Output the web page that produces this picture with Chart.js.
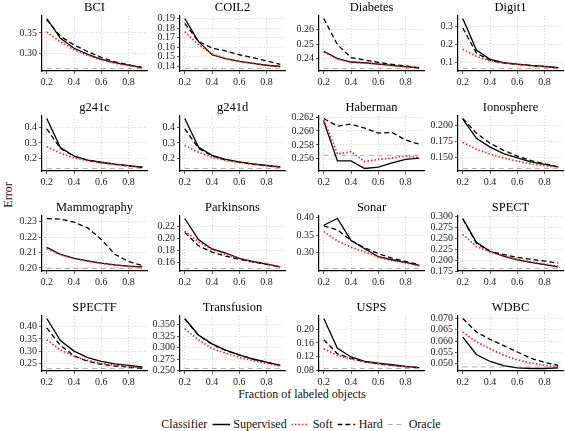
<!DOCTYPE html>
<html>
<head>
<meta charset="utf-8">
<script src="https://cdn.jsdelivr.net/npm/chart.js@4.4.1/dist/chart.umd.min.js"></script>
<style>
body { margin: 0; background: #fff; width: 565px; height: 431px; overflow: hidden; position: relative;
       font-family: "Liberation Serif", "DejaVu Serif", serif; color: #111; }
.panel { position: absolute; width: 146px; height: 87px; }
#ytitle { position: absolute; left: 8px; top: 195px; font-size: 12px; white-space: nowrap;
          transform: translate(-50%, -50%) rotate(-90deg); }
#xtitle { position: absolute; left: 302px; top: 394px; font-size: 12px; white-space: nowrap;
          transform: translate(-50%, -50%); }
#legend { position: absolute; left: 301px; top: 424px; font-size: 12px; white-space: nowrap;
          transform: translate(-50%, -50%); display: flex; align-items: center; }
#legend svg { margin: 0 3px 0 5px; }
</style>
</head>
<body>
<div id="ytitle">Error</div>
<div id="xtitle">Fraction of labeled objects</div>
<div id="legend">
  <span>Classifier</span>
  <svg width="18" height="6"><line x1="0" y1="3" x2="18" y2="3" stroke="#000" stroke-width="1.3"/></svg><span>Supervised</span>
  <svg width="18" height="6"><line x1="0" y1="3" x2="18" y2="3" stroke="#ee1c25" stroke-width="1.6" stroke-dasharray="1.5 2"/></svg><span>Soft</span>
  <svg width="18" height="6"><line x1="0" y1="3" x2="18" y2="3" stroke="#000" stroke-width="1.3" stroke-dasharray="5 3"/></svg><span>Hard</span>
  <svg width="18" height="6"><line x1="0" y1="3" x2="18" y2="3" stroke="#b0b0b0" stroke-width="1" stroke-dasharray="5 4"/></svg><span>Oracle</span>
</div>
<script>
var panelNames = ['BCI', 'COIL2', 'Diabetes', 'Digit1', 'g241c', 'g241d', 'Haberman', 'Ionosphere',
    'Mammography', 'Parkinsons', 'Sonar', 'SPECT', 'SPECTF', 'Transfusion', 'USPS', 'WDBC'];
var fractions = [0.2, 0.3, 0.4, 0.5, 0.6, 0.7, 0.8, 0.9];
var xTickLabels = ['0.2', '0.4', '0.6', '0.8'];

var supervisedErr = [
    [0.385, 0.337, 0.313, 0.298, 0.286, 0.278, 0.272, 0.266],
    [0.190, 0.166, 0.152, 0.148, 0.145, 0.143, 0.141, 0.1397],
    [0.2451, 0.2400, 0.2376, 0.2371, 0.2362, 0.2353, 0.2344, 0.2336],
    [0.344, 0.168, 0.116, 0.098, 0.089, 0.082, 0.077, 0.070],
    [0.456, 0.270, 0.216, 0.190, 0.176, 0.164, 0.154, 0.144],
    [0.456, 0.274, 0.220, 0.194, 0.178, 0.166, 0.156, 0.146],
    [0.2614, 0.2557, 0.2557, 0.2546, 0.2548, 0.2554, 0.2559, 0.2561],
    [0.210, 0.180, 0.166, 0.156, 0.149, 0.143, 0.139, 0.135],
    [0.2133, 0.2088, 0.2061, 0.2045, 0.2031, 0.2020, 0.2012, 0.2006],
    [0.233, 0.198, 0.1825, 0.1757, 0.1668, 0.1616, 0.1574, 0.1527],
    [0.378, 0.397, 0.335, 0.3115, 0.289, 0.2805, 0.273, 0.2646],
    [0.296, 0.241, 0.2206, 0.2096, 0.2007, 0.1949, 0.1897, 0.1846],
    [0.432, 0.343, 0.301, 0.275, 0.260, 0.250, 0.2436, 0.237],
    [0.3638, 0.328, 0.3086, 0.2948, 0.2845, 0.2755, 0.2686, 0.2617],
    [0.2323, 0.1446, 0.1188, 0.1059, 0.1003, 0.0957, 0.0911, 0.0874],
    [0.0618, 0.0541, 0.0510, 0.0492, 0.0482, 0.0479, 0.0479, 0.0482]
];
var softErr = [
    [0.352, 0.329, 0.309, 0.296, 0.285, 0.277, 0.271, 0.266],
    [0.176, 0.1626, 0.153, 0.148, 0.145, 0.143, 0.141, 0.1397],
    [0.2444, 0.2398, 0.2373, 0.2369, 0.2362, 0.2351, 0.2342, 0.2336],
    [0.172, 0.133, 0.107, 0.095, 0.088, 0.081, 0.075, 0.070],
    [0.276, 0.234, 0.204, 0.186, 0.172, 0.162, 0.152, 0.144],
    [0.284, 0.240, 0.208, 0.188, 0.174, 0.162, 0.152, 0.146],
    [0.2616, 0.2567, 0.2570, 0.2556, 0.2559, 0.2561, 0.2564, 0.2562],
    [0.1735, 0.163, 0.155, 0.149, 0.144, 0.140, 0.137, 0.135],
    [0.2127, 0.2086, 0.2061, 0.2043, 0.2029, 0.2018, 0.2010, 0.2004],
    [0.2122, 0.1944, 0.1814, 0.1736, 0.1668, 0.1616, 0.1574, 0.1527],
    [0.360, 0.3336, 0.316, 0.3027, 0.2876, 0.278, 0.2717, 0.2628],
    [0.2596, 0.2316, 0.2191, 0.2096, 0.2022, 0.1963, 0.1912, 0.186],
    [0.347, 0.3055, 0.279, 0.263, 0.251, 0.2436, 0.2385, 0.2335],
    [0.341, 0.3176, 0.2983, 0.288, 0.279, 0.272, 0.2659, 0.2603],
    [0.1428, 0.1234, 0.1123, 0.104, 0.0985, 0.0939, 0.0902, 0.0874],
    [0.064, 0.0597, 0.0566, 0.0538, 0.0517, 0.0503, 0.0493, 0.0486]
];
var hardErr = [
    [0.382, 0.342, 0.321, 0.305, 0.291, 0.280, 0.273, 0.266],
    [0.185, 0.166, 0.159, 0.156, 0.152, 0.149, 0.1455, 0.142],
    [0.2678, 0.2496, 0.2407, 0.2390, 0.2373, 0.2360, 0.2349, 0.2336],
    [0.291, 0.151, 0.110, 0.096, 0.088, 0.081, 0.075, 0.070],
    [0.390, 0.264, 0.214, 0.188, 0.174, 0.162, 0.152, 0.144],
    [0.390, 0.266, 0.216, 0.192, 0.176, 0.164, 0.154, 0.146],
    [0.2618, 0.2607, 0.2610, 0.2604, 0.2597, 0.2598, 0.2587, 0.2581],
    [0.211, 0.188, 0.172, 0.161, 0.152, 0.145, 0.140, 0.135],
    [0.2320, 0.2316, 0.2296, 0.2259, 0.2184, 0.2088, 0.2041, 0.2016],
    [0.210, 0.1877, 0.1772, 0.1704, 0.1652, 0.1610, 0.1569, 0.1527],
    [0.376, 0.3646, 0.335, 0.314, 0.298, 0.285, 0.276, 0.2664],
    [0.2949, 0.239, 0.2206, 0.2132, 0.2066, 0.2022, 0.1978, 0.1934],
    [0.394, 0.324, 0.282, 0.260, 0.2475, 0.241, 0.237, 0.232],
    [0.3624, 0.3275, 0.3075, 0.294, 0.284, 0.2752, 0.2683, 0.2615],
    [0.1696, 0.128, 0.1142, 0.104, 0.0985, 0.0939, 0.0902, 0.0874],
    [0.070, 0.064, 0.0608, 0.058, 0.0552, 0.0524, 0.0506, 0.0493]
];
var oracleErr = [0.264, 0.1376, 0.2331, 0.065, 0.136, 0.136, 0.2565, 0.1325,
    0.1996, 0.150, 0.2558, 0.181, 0.231, 0.2548, 0.0846, 0.0486];

var yTickLabels = [
    ['0.30', '0.35'],
    ['0.14', '0.15', '0.16', '0.17', '0.18', '0.19'],
    ['0.24', '0.25', '0.26'],
    ['0.1', '0.2', '0.3'],
    ['0.2', '0.3', '0.4'],
    ['0.2', '0.3', '0.4'],
    ['0.256', '0.258', '0.260', '0.262'],
    ['0.150', '0.175', '0.200'],
    ['0.20', '0.21', '0.22', '0.23'],
    ['0.16', '0.18', '0.20', '0.22'],
    ['0.30', '0.35', '0.40'],
    ['0.175', '0.200', '0.225', '0.250', '0.275', '0.300'],
    ['0.25', '0.30', '0.35', '0.40'],
    ['0.250', '0.275', '0.300', '0.325', '0.350'],
    ['0.08', '0.12', '0.16', '0.20'],
    ['0.050', '0.055', '0.060', '0.065', '0.070']
];

// panel placement (plot area left / top)
var plotLeft = [42, 180, 319, 458];
var plotTop = [15, 115, 215, 315];

Chart.defaults.font.family = "'Liberation Serif', 'DejaVu Serif', serif";
Chart.defaults.color = '#222';

function toPoints(values) {
    return fractions.map(function (f, j) { return { x: f, y: values[j] }; });
}

panelNames.forEach(function (name, i) {
    var col = i % 4, row = Math.floor(i / 4);
    var div = document.createElement('div');
    div.className = 'panel';
    div.style.left = (plotLeft[col] - 40) + 'px';
    div.style.top = (plotTop[row] - 15) + 'px';
    var canvas = document.createElement('canvas');
    div.appendChild(canvas);
    document.body.appendChild(div);

    var all = supervisedErr[i].concat(softErr[i], hardErr[i], [oracleErr[i]]);
    var lo = Math.min.apply(null, all), hi = Math.max.apply(null, all);
    var pad = (hi - lo) * 0.05;
    var xFirst = fractions[0], xLast = fractions[fractions.length - 1];
    var xPad = (xLast - xFirst) * 0.05;

    new Chart(canvas.getContext('2d'), {
        type: 'line',
        data: {
            datasets: [{
                label: 'Oracle',
                data: [{ x: xFirst, y: oracleErr[i] }, { x: xLast, y: oracleErr[i] }],
                borderColor: '#b0b0b0', borderWidth: 1, borderDash: [5, 4],
                pointRadius: 0, order: 4
            }, {
                label: 'Supervised',
                data: toPoints(supervisedErr[i]),
                borderColor: '#000', borderWidth: 1.3,
                pointRadius: 0, order: 3
            }, {
                label: 'Hard',
                data: toPoints(hardErr[i]),
                borderColor: '#000', borderWidth: 1.3, borderDash: [5, 3],
                pointRadius: 0, order: 2
            }, {
                label: 'Soft',
                data: toPoints(softErr[i]),
                borderColor: '#ee1c25', borderWidth: 1.6, borderDash: [1.5, 2],
                pointRadius: 0, order: 1
            }]
        },
        options: {
            responsive: true,
            maintainAspectRatio: false,
            animation: false,
            layout: { padding: { left: 0, right: 1, top: 0, bottom: 0 } },
            plugins: {
                legend: { display: false },
                tooltip: { enabled: false },
                title: {
                    display: true, text: name, fullSize: false, color: '#000',
                    font: { size: 12.5, weight: 'normal' },
                    padding: { top: 0, bottom: 1 }
                }
            },
            scales: {
                x: {
                    type: 'linear',
                    min: xFirst - xPad, max: xLast + xPad,
                    afterBuildTicks: function (axis) {
                        axis.ticks = xTickLabels.map(function (t) { return { value: parseFloat(t) }; });
                    },
                    afterFit: function (axis) { axis.height = 16; },
                    ticks: {
                        autoSkip: false, maxRotation: 0, padding: 2,
                        font: { size: 10 },
                        callback: function (v, k) { return xTickLabels[k]; }
                    },
                    grid: { color: '#c8c8c8', lineWidth: 0.8, tickLength: 3, tickColor: '#333', tickWidth: 0.8 },
                    border: { display: true, color: '#000', width: 1.2, dash: [1, 2] }
                },
                y: {
                    type: 'linear',
                    min: lo - pad, max: hi + pad,
                    afterBuildTicks: function (axis) {
                        axis.ticks = yTickLabels[i].map(function (t) { return { value: parseFloat(t) }; });
                    },
                    afterFit: function (axis) { axis.width = 40; },
                    ticks: {
                        autoSkip: false, padding: 2,
                        font: { size: 10 },
                        callback: function (v, k) { return yTickLabels[i][k]; }
                    },
                    grid: { color: '#c8c8c8', lineWidth: 0.8, tickLength: 3, tickColor: '#333', tickWidth: 0.8 },
                    border: { display: true, color: '#000', width: 1.2, dash: [1, 2] }
                }
            }
        }
    });
});
</script>
</body>
</html>
